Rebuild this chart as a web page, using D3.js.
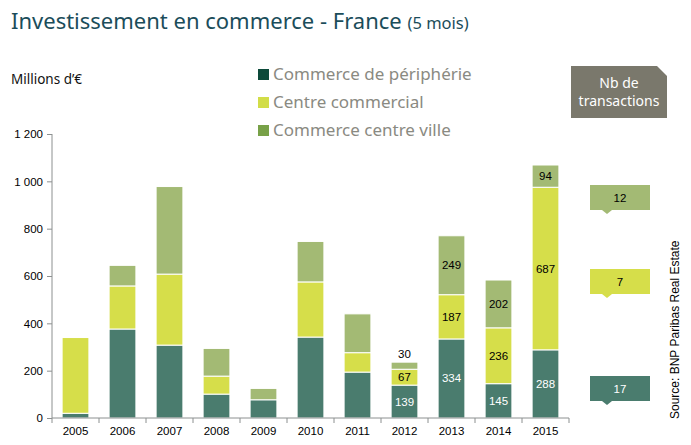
<!DOCTYPE html>
<html><head><meta charset="utf-8">
<script src="https://cdn.jsdelivr.net/npm/d3@7"></script>
<style>body{margin:0;background:#fff}svg{display:block}</style>
</head><body>
<svg id="c" width="691" height="445"></svg>
<script>
const years = ["2005","2006","2007","2008","2009","2010","2011","2012","2013","2014","2015"];
const peripherie = [20,376,308,101,77,342,194,139,334,145,288];
const centreCommercial = [320,182,300,76,0,233,82,67,187,236,687];
const centreVille = [0,87,370,117,48,171,164,30,249,202,94];
const labelledYears = ["2012","2013","2014","2015"];
const yTicks = [0,200,400,600,800,1000,1200];
const seriesNames = ["Commerce de périphérie","Centre commercial","Commerce centre ville"];
const transactions = [17,7,12];

const barColors = ["#4a7c6e","#d6de4a","#a3ba74"];
const legendColors = ["#0d4a3a","#d2dd48","#78a148"];

const svg = d3.select("#c");
const x = d3.scaleBand().domain(years).range([52,569]).paddingInner(0.43).paddingOuter(0.215);
const y = d3.scaleLinear().domain([0,1200]).range([418,134]);

const data = years.map((yr,i)=>({year:yr, a:peripherie[i], b:centreCommercial[i], c:centreVille[i]}));
const stack = d3.stack().keys(["a","b","c"])(data);

// title
const t = svg.append("text").attr("x",11).attr("y",29).attr("fill","#1b4d5a")
  .style("font-family","'Noto Sans'").style("font-size","22px");
t.append("tspan").text("Investissement en commerce - France ");
t.append("tspan").style("font-size","16.5px").text("(5 mois)");

svg.append("text").attr("x",11).attr("y",84).text("Millions d’€")
  .style("font-family","'Noto Sans'").style("font-size","13.5px").attr("fill","#111");

// legend
seriesNames.forEach((n,i)=>{
  const cy = 74 + i*28;
  svg.append("rect").attr("x",258).attr("y",cy-5).attr("width",11).attr("height",11).attr("fill",legendColors[i]);
  svg.append("text").attr("x",273).attr("y",cy+6).text(n).attr("fill","#8a8a82")
    .style("font-family","'Noto Sans'").style("font-size","17px");
});

// Nb de transactions box
svg.append("path").attr("d","M571,66 L657,66 L667,76 L667,118 L571,118 Z").attr("fill","#7a786c");
svg.append("text").attr("x",619).attr("y",88).attr("text-anchor","middle").attr("fill","#fff")
  .style("font-family","'Noto Sans'").style("font-size","14px").text("Nb de");
svg.append("text").attr("x",619).attr("y",106).attr("text-anchor","middle").attr("fill","#fff")
  .style("font-family","'Noto Sans'").style("font-size","14px").text("transactions");

// bars
stack.forEach((layer,li)=>{
  svg.append("g").selectAll("rect").data(layer).join("rect")
    .attr("x",d=>x(d.data.year)).attr("width",x.bandwidth())
    .attr("y",d=>y(d[1])).attr("height",d=>Math.max(0,y(d[0])-y(d[1])))
    .attr("fill",barColors[li]).attr("stroke","#fff").attr("stroke-width",d=>(d[1]-d[0])>0?1:0);
});

// value labels
stack.forEach((layer,li)=>{
  layer.filter(d=>labelledYears.includes(d.data.year)).forEach(d=>{
    const v = d[1]-d[0];
    const h = y(d[0])-y(d[1]);
    const outside = h < 14;
    const ty = outside ? y(d[1]) - 4 : (y(d[0])+y(d[1]))/2 + 4;
    svg.append("text").attr("x",x(d.data.year)+x.bandwidth()/2).attr("y",ty)
      .attr("text-anchor","middle").text(v)
      .attr("fill", li===0 ? "#fff" : "#000")
      .style("font-family","'Liberation Sans',Arial").style("font-size","11.5px");
  });
});

// axes
const axisColor = "#8c9090";
const ya = svg.append("g").attr("transform","translate(52,0)")
  .call(d3.axisLeft(y).tickValues(yTicks).tickSize(5).tickPadding(4)
    .tickFormat(d=>d3.format(",")(d).replace(",", " ")));
const xa = svg.append("g").attr("transform","translate(0,418)")
  .call(d3.axisBottom(x).tickSize(0).tickPadding(9));
[ya,xa].forEach(a=>{
  a.select(".domain").attr("stroke",axisColor);
  a.selectAll(".tick line").attr("stroke",axisColor);
  a.selectAll("text").attr("fill","#000").style("font-family","'Liberation Sans',Arial").style("font-size","11.5px");
});
ya.select(".domain").attr("d","M0,134V418");
xa.select(".domain").attr("d","M52,0H569");
const step = x.step();
xa.selectAll(".bt").data(d3.range(years.length+1)).join("line")
  .attr("x1",i=>52+i*step).attr("x2",i=>52+i*step).attr("y1",0).attr("y2",5).attr("stroke",axisColor);

// transaction boxes
const boxes = [
  {n:transactions[2],c:barColors[2],y:185,tc:"#000"},
  {n:transactions[1],c:barColors[1],y:269,tc:"#000"},
  {n:transactions[0],c:barColors[0],y:376,tc:"#fff"}];
boxes.forEach(b=>{
  svg.append("path").attr("d",`M590,${b.y} H650 V${b.y+25} H612 L607,${b.y+29} L602,${b.y+25} H590 Z`).attr("fill",b.c);
  svg.append("text").attr("x",620).attr("y",b.y+17).attr("text-anchor","middle").text(b.n)
    .attr("fill",b.tc).style("font-family","'Liberation Sans',Arial").style("font-size","11.5px");
});

svg.append("text").attr("transform","translate(679,419) rotate(-90)").text("Source: BNP Paribas Real Estate")
  .attr("fill","#000").style("font-family","'Liberation Sans',Arial").style("font-size","12px");
</script>
</body></html>
